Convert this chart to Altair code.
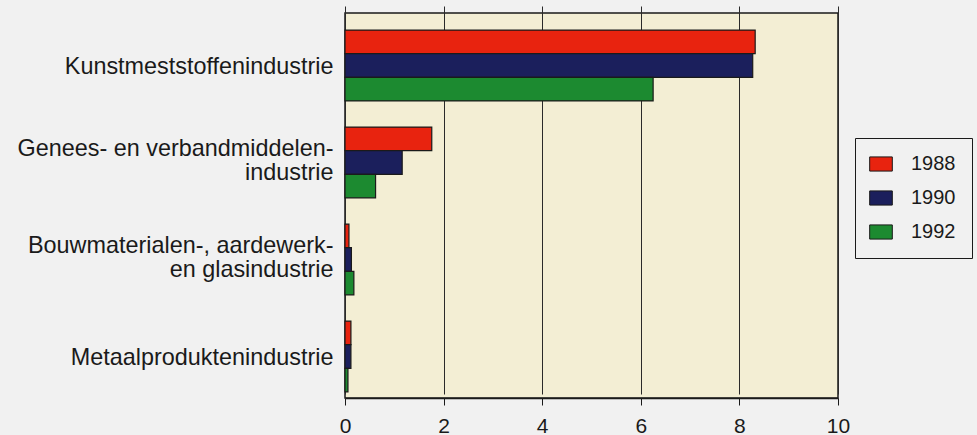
import altair as alt
import pandas as pd

categories = [
    "Kunstmeststoffenindustrie",
    "Genees- en verbandmiddelen-|industrie",
    "Bouwmaterialen-, aardewerk-|en glasindustrie",
    "Metaalproduktenindustrie",
]
years = ["1988", "1990", "1992"]
values_1988 = [8.32, 1.76, 0.08, 0.12]
values_1990 = [8.27, 1.16, 0.13, 0.12]
values_1992 = [6.25, 0.62, 0.18, 0.06]
colors = ["#e8230f", "#1b1f5c", "#1c8a30"]

rows = []
for yr, vals in zip(years, [values_1988, values_1990, values_1992]):
    for c, v in zip(categories, vals):
        rows.append({"cat": c, "year": yr, "value": v})
df = pd.DataFrame(rows)

FONT = "Liberation Sans"

chart = alt.Chart(df).mark_bar(stroke="#1a1a1a", strokeWidth=1.2).encode(
    y=alt.Y(
        "cat:N",
        sort=categories,
        scale=alt.Scale(paddingInner=0.27, paddingOuter=0.135, range=[4, 392]),
        axis=alt.Axis(
            title=None,
            labelExpr="split(datum.value, '|')",
            labelFontSize=23.4,
            labelLineHeight=24,
            labelFont=FONT,
            labelColor="#1a1a1a",
            labelPadding=12,
            labelOffset={"condition": {"test": "indexof(datum.value, '|') >= 0", "value": -14}, "value": 1},
            ticks=False,
            domain=False,
            labelLimit=400,
        ),
    ),
    yOffset=alt.YOffset("year:N", sort=years),
    x=alt.X(
        "value:Q",
        scale=alt.Scale(domain=[0, 10], nice=False),
        axis=alt.Axis(
            title=None,
            values=[0, 2, 4, 6, 8, 10],
            labelFontSize=21,
            labelFont=FONT,
            labelColor="#1a1a1a",
            labelFlush=False,
            tickSize=7,
            tickColor="#1a1a1a",
            labelPadding=10,
            grid=True,
            gridColor="#2a2a2a",
            gridWidth=1,
            domainColor="#1a1a1a",
            domainWidth=1.5,
        ),
    ),
    color=alt.Color(
        "year:N",
        sort=years,
        scale=alt.Scale(domain=years, range=colors),
        legend=alt.Legend(
            title=None,
            orient="none",
            legendX=510,
            legendY=125,
            strokeColor="#1a1a1a",
            padding=16,
            labelFontSize=20,
            labelFont=FONT,
            labelColor="#1a1a1a",
            labelExpr="datum.label + '\u00a0\u00a0\u00a0\u00a0\u00a0\u00a0\u00a0'",
            symbolType="M-1.6,-1L1.6,-1L1.6,1L-1.6,1Z",
            symbolSize=200,
            symbolStrokeColor="#1a1a1a",
            symbolStrokeWidth=1,
            symbolOpacity=1,
            rowPadding=14,
            labelOffset=20,
            fillColor="#f1f1f1",
        ),
    ),
).properties(
    width=493,
    height=385,
    background="#f1f1f1",
    padding={"left": 345, "top": 13, "right": 139, "bottom": 37},
    autosize=alt.AutoSizeParams(type="none"),
).configure_view(
    fill="#f3eed4",
    stroke="#1a1a1a",
    strokeWidth=1.5,
)

chart.save("out.html", embed_options={"renderer": "svg", "actions": False})
